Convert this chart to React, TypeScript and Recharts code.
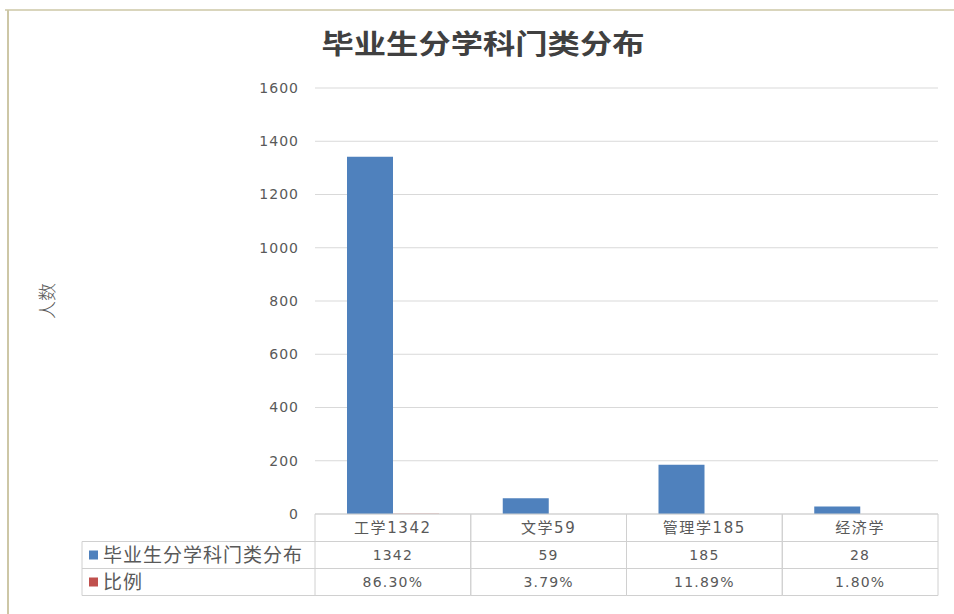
import { BarChart, Bar, XAxis, YAxis, CartesianGrid } from "recharts";

const categories = ["工学1342", "文学59", "管理学185", "经济学"];
const counts = [1342, 59, 185, 28];
const ratios = [0.863, 0.0379, 0.1189, 0.018];
const yTicks = [0, 200, 400, 600, 800, 1000, 1200, 1400, 1600];
const seriesNames = ["毕业生分学科门类分布", "比例"];
const title = "毕业生分学科门类分布";
const yLabel = "人数";

const data = categories.map((name, i) => ({ name, count: counts[i], ratio: ratios[i] }));

// layout
const W = 954;
const H = 614;
const PLOT_LEFT = 315;
const PLOT_RIGHT = 16;
const PLOT_TOP = 88;
const TABLE_H = 82;
const COL_W = (W - PLOT_LEFT - PLOT_RIGHT) / categories.length;
const ROWS = [0, 27.5, 54.5, 81.5];
const LEGEND_X = 82;
const BLUE = "#4f81bd";
const RED = "#c0504d";
const GRID = "#d9d9d9";
const LINE = "#d0d0d0";
const TXT = "#595959";
const NUM_FONT = "'DejaVu Sans', 'Noto Sans CJK SC', sans-serif";
const CJK_FONT = "'Noto Sans CJK SC', 'DejaVu Sans', sans-serif";

function TableTick(props: any) {
  const { x, y, payload, index } = props;
  const l = x - COL_W / 2;
  const r = x + COL_W / 2;
  const mid = (a: number, b: number) => y + (a + b) / 2;
  return (
    <g>
      <line x1={l} y1={y} x2={l} y2={y + ROWS[3]} stroke={LINE} />
      <line x1={r} y1={y} x2={r} y2={y + ROWS[3]} stroke={LINE} />
      <line x1={l} y1={y + ROWS[1]} x2={r} y2={y + ROWS[1]} stroke={LINE} />
      <line x1={l} y1={y + ROWS[2]} x2={r} y2={y + ROWS[2]} stroke={LINE} />
      <line x1={l} y1={y + ROWS[3]} x2={r} y2={y + ROWS[3]} stroke={LINE} />
      <text x={x} y={mid(ROWS[0], ROWS[1])} dy="0.36em" textAnchor="middle" fontSize={15} letterSpacing={1.6} fill={TXT} fontFamily={NUM_FONT}>
        {payload.value}
      </text>
      <text x={x} y={mid(ROWS[1], ROWS[2])} dy="0.36em" textAnchor="middle" fontSize={14} letterSpacing={1.2} fill={TXT} fontFamily={NUM_FONT}>
        {counts[index]}
      </text>
      <text x={x} y={mid(ROWS[2], ROWS[3])} dy="0.36em" textAnchor="middle" fontSize={14} letterSpacing={1.2} fill={TXT} fontFamily={NUM_FONT}>
        {(ratios[index] * 100).toFixed(2) + "%"}
      </text>
      {index === 0 && (
        <g>
          <line x1={LEGEND_X} y1={y + ROWS[1]} x2={l} y2={y + ROWS[1]} stroke={LINE} />
          <line x1={LEGEND_X} y1={y + ROWS[2]} x2={l} y2={y + ROWS[2]} stroke={LINE} />
          <line x1={LEGEND_X} y1={y + ROWS[3]} x2={l} y2={y + ROWS[3]} stroke={LINE} />
          <line x1={LEGEND_X} y1={y + ROWS[1]} x2={LEGEND_X} y2={y + ROWS[3]} stroke={LINE} />
          <rect x={LEGEND_X + 7} y={mid(ROWS[1], ROWS[2]) - 4.5} width={9} height={9} fill={BLUE} />
          <text x={LEGEND_X + 21} y={mid(ROWS[1], ROWS[2])} dy="0.36em" fontSize={19} letterSpacing={1} fill={TXT} fontFamily={CJK_FONT}>
            {seriesNames[0]}
          </text>
          <rect x={LEGEND_X + 7} y={mid(ROWS[2], ROWS[3]) - 4.5} width={9} height={9} fill={RED} />
          <text x={LEGEND_X + 21} y={mid(ROWS[2], ROWS[3])} dy="0.36em" fontSize={19} letterSpacing={1} fill={TXT} fontFamily={CJK_FONT}>
            {seriesNames[1]}
          </text>
        </g>
      )}
    </g>
  );
}

function YLabel(props: any) {
  const vb = props.viewBox || {};
  const cy = vb.y + vb.height / 2;
  return (
    <text x={48} y={cy} transform={`rotate(-90 48 ${cy})`} textAnchor="middle" dy="0.36em" fontSize={18} fontWeight={300} fill={TXT} fontFamily={CJK_FONT}>
      {yLabel}
    </text>
  );
}

export default function App() {
  return (
    <div style={{ position: "absolute", left: 0, top: 0, width: W, height: H, background: "#fff" }}>
      <svg width={W} height={H} style={{ position: "absolute", left: 0, top: 0 }}>
        <line x1={5} y1={10} x2={W} y2={10} stroke="#cdc7a6" strokeWidth={1.5} />
        <line x1={8} y1={10} x2={8} y2={H} stroke="#cdc7a6" strokeWidth={2} />
        <text x={483} y={44} dy="0.36em" textAnchor="middle" fontSize={27} fontWeight="bold" fill="#404040" fontFamily={CJK_FONT} textLength={323} lengthAdjust="spacingAndGlyphs">
          {title}
        </text>
      </svg>
      <div style={{ position: "absolute", left: 0, top: 0 }}>
        <BarChart
          width={W}
          height={H}
          data={data}
          margin={{ top: PLOT_TOP, right: PLOT_RIGHT, left: 0, bottom: H - PLOT_TOP - 426 - TABLE_H }}
          barSize={46}
          barGap={0}
        >
          <CartesianGrid vertical={false} stroke={GRID} />
          <XAxis
            dataKey="name"
            interval={0}
            height={TABLE_H}
            tickLine={false}
            tickSize={0}
            tickMargin={0}
            axisLine={{ stroke: LINE }}
            tick={(p: any) => <TableTick {...p} />}
          />
          <YAxis
            width={PLOT_LEFT}
            domain={[0, 1600]}
            ticks={yTicks}
            axisLine={false}
            tickLine={false}
            tickSize={8}
            tickMargin={8}
            tick={{ fontSize: 14, fill: TXT, fontFamily: NUM_FONT, letterSpacing: 1 }}
            label={(p: any) => <YLabel {...p} />}
          />
          <Bar dataKey="count" name={seriesNames[0]} fill={BLUE} isAnimationActive={false} />
          <Bar dataKey="ratio" name={seriesNames[1]} fill={RED} isAnimationActive={false} />
        </BarChart>
      </div>
    </div>
  );
}
